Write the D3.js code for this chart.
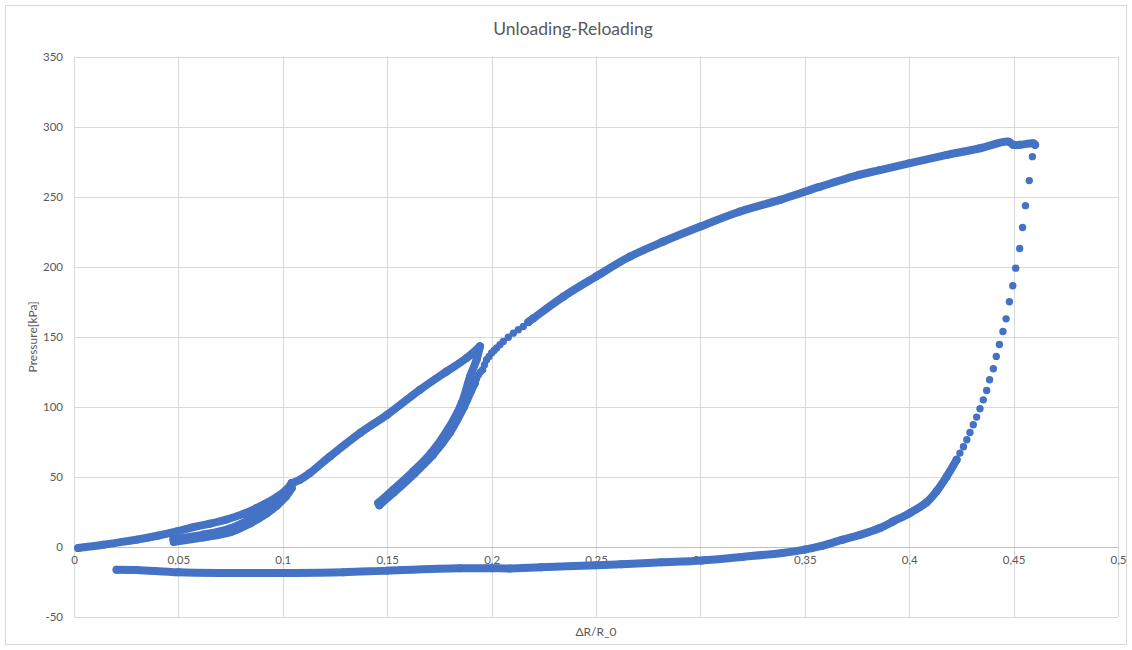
<!DOCTYPE html>
<html>
<head>
<meta charset="utf-8">
<script src="https://cdn.jsdelivr.net/npm/d3@7"></script>
<style>
  html, body { margin: 0; padding: 0; background: #fff; }
  svg { display: block; }
  text { font-family: Lato, "Open Sans", sans-serif; fill: #595959; }
</style>
</head>
<body>
<svg id="chart" width="1132" height="650"></svg>
<script>
// ΔR/R_0 (x) vs pressure in kPa (y), recorded along the unloading/reloading path
const loadingA = [[0.002,-0.7],[0.014,1.6],[0.03,5.2],[0.04,8.0],[0.0492,11.1],[0.0571,14.1],[0.0651,16.6],[0.0731,19.6],[0.0811,23.6],[0.0875,27.8],[0.0971,35.5],[0.1015,40.5],[0.1043,45.5]];
const unloadA  = [[0.1043,45.5],[0.1015,38.5],[0.0971,32.5],[0.0923,27.0],[0.0843,19.8],[0.0747,13.2],[0.0619,8.8],[0.0476,5.5]];
const reloadA  = [[0.0478,3.6],[0.062,6.8],[0.075,10.6],[0.0843,16.8],[0.0923,24.0],[0.0971,29.5],[0.1015,36.0],[0.1043,42.0]];
const loadingB = [[0.1043,45.5],[0.1082,48.0],[0.113,52.8],[0.1226,64.6],[0.137,81.3],[0.15,94.4],[0.1657,112.2],[0.1785,125.3],[0.188,134.8],[0.1944,143.1]];
const unloadB  = [[0.1944,143.1],[0.1928,133.6],[0.1897,121.7],[0.1857,102.7],[0.179,83.7],[0.171,67.0],[0.1625,54.0],[0.1529,40.9],[0.1457,31.4]];
const reloadB  = [[0.1462,29.8],[0.153,38.6],[0.1632,52.6],[0.1718,65.5],[0.1802,82.0],[0.1868,100.0],[0.1902,111.5],[0.192,117.0]];
const reloadBTop = [[0.1928,120.0],[0.1937,123.0],[0.1947,125.0],[0.1957,126.5],[0.1966,130.0],[0.1976,133.6],[0.1988,136.0],[0.2,138.4],[0.2012,140.2],[0.2024,142.0],[0.204,144.4],[0.2056,146.7],[0.208,149.7],[0.2104,152.6],[0.2128,155.0],[0.2152,157.3],[0.2176,160.5]];
const loadingC = [[0.2176,160.5],[0.22,163.2],[0.2344,178.7],[0.25,193.0],[0.2663,207.3],[0.2823,218.0],[0.3,228.7],[0.319,239.4],[0.3381,247.7],[0.357,257.0],[0.376,265.6],[0.386,269.0],[0.4004,274.0],[0.418,279.8],[0.4339,284.6],[0.4475,289.3],[0.4499,286.9],[0.453,287.0],[0.4594,288.1],[0.4603,287.0]];
const unloadC  = [[0.459,278.6],[0.4575,261.5],[0.4557,243.6],[0.4543,228.0],[0.4529,213.0],[0.451,199.0],[0.4496,186.4],[0.448,175.0],[0.4464,162.8],[0.4449,153.8],[0.4432,144.5],[0.4417,136.0],[0.4403,127.2],[0.4385,119.3],[0.4371,111.7],[0.4355,105.0],[0.4339,98.6],[0.4323,92.7],[0.4307,87.2],[0.4291,81.7],[0.4276,76.5],[0.426,71.5],[0.4243,67.0]];
const unloadCTail = [[0.4227,62.3],[0.418,50.4],[0.4131,39.7],[0.4083,31.8],[0.4004,24.3],[0.3924,18.3],[0.386,13.5],[0.3764,8.6],[0.3681,5.2],[0.3585,0.9],[0.35,-1.9],[0.3392,-4.3],[0.3199,-7.1],[0.3006,-9.6],[0.2813,-11.0],[0.2622,-12.4],[0.25,-13.1],[0.2236,-14.5],[0.2088,-15.3],[0.2,-15.2],[0.1849,-15.2],[0.15,-16.9],[0.129,-18.1],[0.1,-18.6],[0.0731,-18.6],[0.05,-18.1],[0.03,-16.4],[0.0204,-16.2]];

const xTicks = [0, 0.05, 0.1, 0.15, 0.2, 0.25, 0.3, 0.35, 0.4, 0.45, 0.5];
const yTicks = [-50, 0, 50, 100, 150, 200, 250, 300, 350];

const chartTitle = "Unloading-Reloading";
const xTitle = "ΔR/R_0";
const yTitle = "Pressure[kPa]";

// segments whose samples are packed tightly enough to read as a continuous band
const series = [
  { pts: loadingA, joined: true },
  { pts: unloadA, joined: true },
  { pts: reloadA, joined: true },
  { pts: loadingB, joined: true },
  { pts: unloadB, joined: true },
  { pts: reloadB, joined: true },
  { pts: reloadBTop, joined: false },
  { pts: loadingC, joined: true },
  { pts: unloadC, joined: false },
  { pts: unloadCTail, joined: true }
];

const W = 1132, H = 650;
const plot = { left: 74, right: 1118, top: 56.6, bottom: 617 };
const blue = "#4472C4";
const markerR = 3.7;
const bandWidth = 8;

const svg = d3.select("#chart");

svg.append("rect")
  .attr("x", 5.5).attr("y", 5.5)
  .attr("width", W - 11).attr("height", H - 11)
  .attr("fill", "#fff").attr("stroke", "#d9d9d9");

const x = d3.scaleLinear().domain([0, 0.5]).range([plot.left, plot.right]);
const y = d3.scaleLinear().domain([-50, 350]).range([plot.bottom, plot.top]);
const fmt = d => String(d).replace(".", ",");

// gridlines
const grid = svg.append("g");
grid.selectAll("line.v").data(xTicks).join("line")
  .attr("x1", d => Math.round(x(d)) + 0.5).attr("x2", d => Math.round(x(d)) + 0.5)
  .attr("y1", plot.top).attr("y2", plot.bottom)
  .attr("stroke", "#d9d9d9");
grid.selectAll("line.h").data(yTicks).join("line")
  .attr("x1", plot.left).attr("x2", plot.right)
  .attr("y1", d => Math.round(y(d)) + 0.5).attr("y2", d => Math.round(y(d)) + 0.5)
  .attr("stroke", d => d === 0 ? "#bfbfbf" : "#d9d9d9");

// y axis labels
const yAxis = d3.axisLeft(y).tickValues(yTicks).tickSize(0).tickPadding(11).tickFormat(fmt);
svg.append("g").attr("transform", `translate(${plot.left},0)`).call(yAxis)
  .call(g => g.select(".domain").remove())
  .call(g => g.selectAll("text").attr("font-family", "Lato, sans-serif").attr("font-size", 11.5).attr("fill", "#595959"));

// x axis labels sit along the zero line
const xAxis = d3.axisBottom(x).tickValues(xTicks).tickSize(0).tickPadding(9).tickFormat(fmt);
svg.append("g").attr("transform", `translate(0,${y(0)})`).call(xAxis)
  .call(g => g.select(".domain").remove())
  .call(g => g.selectAll("text").attr("font-family", "Lato, sans-serif").attr("font-size", 11.5).attr("fill", "#595959"));

// data
const line = d3.line().curve(d3.curveCatmullRom.alpha(0.5)).x(d => x(d[0])).y(d => y(d[1]));
const marks = svg.append("g");
series.forEach(s => {
  if (s.joined) {
    marks.append("path")
      .attr("d", line(s.pts))
      .attr("fill", "none")
      .attr("stroke", blue)
      .attr("stroke-width", bandWidth)
      .attr("stroke-linejoin", "round")
      .attr("stroke-linecap", "round");
  }
  marks.append("g").selectAll("circle").data(s.pts).join("circle")
    .attr("cx", d => x(d[0])).attr("cy", d => y(d[1]))
    .attr("r", s.joined ? bandWidth / 2 : markerR).attr("fill", blue);
});

// titles
svg.append("text")
  .attr("x", 573).attr("y", 35)
  .attr("text-anchor", "middle")
  .attr("font-size", 17.5)
  .text(chartTitle);

svg.append("text")
  .attr("x", (plot.left + plot.right) / 2).attr("y", 636)
  .attr("text-anchor", "middle")
  .attr("font-size", 12)
  .text(xTitle);

svg.append("text")
  .attr("transform", `translate(37,${(plot.top + plot.bottom) / 2}) rotate(-90)`)
  .attr("text-anchor", "middle")
  .attr("font-size", 12)
  .text(yTitle);
</script>
</body>
</html>
